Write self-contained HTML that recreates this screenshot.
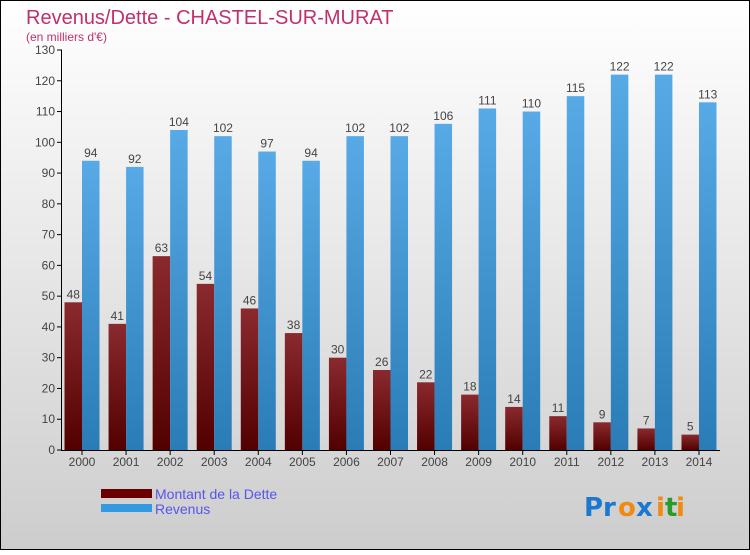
<!DOCTYPE html>
<html><head><meta charset="utf-8"><style>
body{margin:0;width:750px;height:550px;overflow:hidden;font-family:"Liberation Sans",sans-serif}
</style></head><body>
<svg width="750" height="550" xmlns="http://www.w3.org/2000/svg">
<defs>
<linearGradient id="bg" x1="0" y1="0" x2="0" y2="1"><stop offset="0" stop-color="#ffffff"/><stop offset="1" stop-color="#cdcdcd"/></linearGradient>
<linearGradient id="gd" x1="0" y1="0" x2="0" y2="1"><stop offset="0" stop-color="#8a2a2e"/><stop offset="1" stop-color="#520000"/></linearGradient>
<linearGradient id="gr" x1="0" y1="0" x2="0" y2="1"><stop offset="0" stop-color="#58aae6"/><stop offset="1" stop-color="#2a7cb6"/></linearGradient>
</defs>
<rect x="0.5" y="0.5" width="749" height="549" fill="url(#bg)" stroke="#000"/>
<text x="26" y="24" font-size="20" fill="#c0306a">Revenus/Dette - CHASTEL-SUR-MURAT</text>
<text x="26" y="41" font-size="12" fill="#c0306a">(en milliers d'€)</text>
<g id="plot"></g>
<g>
<rect x="101" y="489" width="51" height="9" fill="#6a0000"/>
<text x="155" y="499" font-size="14" fill="#5555ee">Montant de la Dette</text>
<rect x="101" y="504" width="51" height="8" fill="#3399e0"/>
<text x="155" y="514" font-size="14" fill="#5555ee">Revenus</text>
</g>
<g font-size="26" font-family="'DejaVu Sans',sans-serif" font-weight="bold">
<text x="584" y="516" fill="#1a78d0">Pr</text><text x="618" y="516" fill="#f08a10">o</text><text x="636" y="516" fill="#1a78d0">x</text><text x="656" y="516" fill="#f08a10">i</text><text x="665" y="516" fill="#2a9a2a">t</text><text x="676" y="516" fill="#f08a10">i</text>
</g>
</svg>
<script>
const years=[2000,2001,2002,2003,2004,2005,2006,2007,2008,2009,2010,2011,2012,2013,2014];
const dette=[48,41,63,54,46,38,30,26,22,18,14,11,9,7,5];
const revenus=[94,92,104,102,97,94,102,102,106,111,110,115,122,122,113];
const ticks=[0,10,20,30,40,50,60,70,80,90,100,110,120,130];
const NS="http://www.w3.org/2000/svg";
const g=document.getElementById('plot');
const y0=450,yTop=50,vmax=130;
const y=v=>y0-(v/vmax)*(y0-yTop);
const x=i=>82+i*44.07;
const bw=17.5;
function mk(t,a){const e=document.createElementNS(NS,t);for(const k in a)e.setAttribute(k,a[k]);g.appendChild(e);return e;}
ticks.forEach(t=>{
 const l=mk('line',{x1:57,x2:62,y1:y(t),y2:y(t),stroke:'#000'});
 
 
 const tx=mk('text',{x:55,y:y(t)+4,'font-size':12,'text-anchor':'end',fill:'#444'});
 tx.textContent=t;
 
 
});
years.forEach((yr,i)=>{
 const c=x(i);
 const b1=mk('rect',{x:c-bw,y:y(dette[i]),width:bw,height:y0-y(dette[i]),fill:'url(#gd)'});
 
 
 const b2=mk('rect',{x:c,y:y(revenus[i]),width:bw,height:y0-y(revenus[i]),fill:'url(#gr)'});
 
 
 const l1=mk('text',{x:c-bw/2,y:y(dette[i])-4,'font-size':12,'text-anchor':'middle',fill:'#444'});
 l1.textContent=dette[i];
 
 
 const l2=mk('text',{x:c+bw/2,y:y(revenus[i])-4,'font-size':12,'text-anchor':'middle',fill:'#444'});
 l2.textContent=revenus[i];
 
 
 const tk=mk('line',{x1:c,x2:c,y1:y0,y2:y0+5,stroke:'#000'});
 
 
 const xl=mk('text',{x:c,y:466,'font-size':12,'text-anchor':'middle',fill:'#444'});
 xl.textContent=yr;
 
 
});
const ya=mk('line',{x1:61.5,x2:61.5,y1:yTop,y2:y0,stroke:'#000'});


const xa=mk('line',{x1:61,x2:720,y1:y0+0.5,y2:y0+0.5,stroke:'#000'});


</script>
</body></html>
